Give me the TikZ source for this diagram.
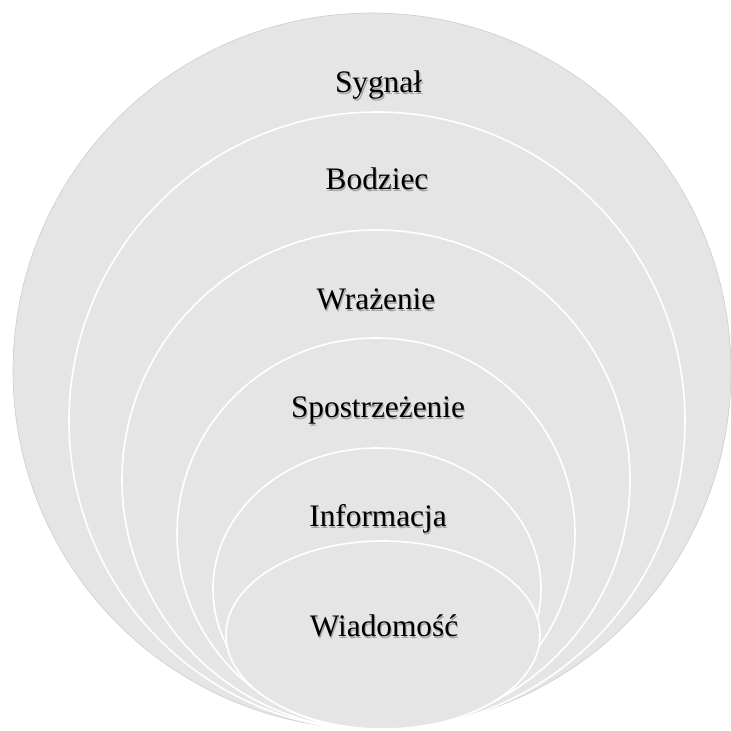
\documentclass[tikz,border=0pt]{standalone}
\usepackage{fontspec}
\setmainfont{Liberation Serif}
\definecolor{ringfill}{RGB}{229,229,229}
\definecolor{rimgray}{RGB}{205,205,205}
\begin{document}
\begin{tikzpicture}[x=1pt,y=1pt,
  ring/.style={fill=ringfill,draw=white,line width=1.6pt},
  outerring/.style={fill=ringfill,draw=rimgray,line width=0.6pt},
  lbl/.style={anchor=base,inner sep=0pt,font=\fontsize{31.3}{36}\selectfont,text=black},
  lblshadow/.style={anchor=base,inner sep=0pt,font=\fontsize{31.3}{36}\selectfont,text=black,opacity=0.28}]
\useasboundingbox (0,0) rectangle (731,731);
% rings, outermost first (y measured upward: y = 731 - image y)
\path[outerring] (372,360) ellipse [x radius=359,y radius=358];
\path[ring] (377,310) ellipse [x radius=308,y radius=309];
\path[ring] (376,251) ellipse [x radius=254,y radius=250];
\path[ring] (376,197) ellipse [x radius=199,y radius=196];
\path[ring] (377,142) ellipse [x radius=164,y radius=141];
\path[ring] (383,96)  ellipse [x radius=157,y radius=94];
% label shadows
\node[lblshadow] (sh1) at (380,636.5) {Sygnał};
\node[lblshadow] (sh2) at (378,539.5) {Bodziec};
\node[lblshadow] (sh3) at (377,419.5) {Wrażenie};
\node[lblshadow] (sh4) at (379,311.5) {Spostrzeżenie};
\node[lblshadow] (sh5) at (379,202.5) {Informacja};
\node[lblshadow] (sh6) at (385,92.5)  {Wiadomość};
% labels
\node[lbl] (t1) at (378.5,638) {Sygnał};
\node[lbl] (t2) at (377,541) {Bodziec};
\node[lbl] (t3) at (376,421) {Wrażenie};
\node[lbl] (t4) at (378,313) {Spostrzeżenie};
\node[lbl] (t5) at (378,204) {Informacja};
\node[lbl] (t6) at (384,94)  {Wiadomość};
\end{tikzpicture}
\end{document}
